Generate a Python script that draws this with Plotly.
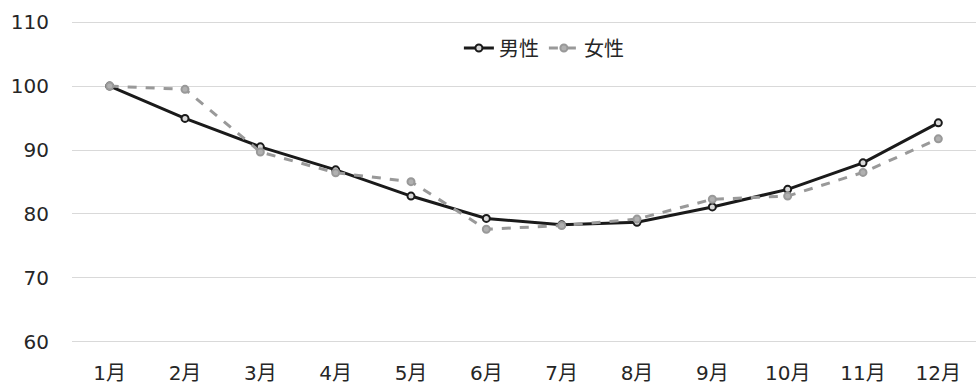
import plotly.graph_objects as go

months = ["1月", "2月", "3月", "4月", "5月", "6月", "7月", "8月", "9月", "10月", "11月", "12月"]
male = [100.0, 94.95, 90.5, 86.9, 82.8, 79.3, 78.3, 78.7, 81.1, 83.85, 88.0, 94.25]
female = [100.0, 99.5, 89.7, 86.45, 85.05, 77.6, 78.2, 79.2, 82.3, 82.8, 86.5, 91.75]
y_ticks = [60, 70, 80, 90, 100, 110]

FONT = "DejaVu Sans, Noto Sans CJK JP, sans-serif"
TXT = "#262626"

fig = go.Figure()
fig.add_trace(go.Scatter(
    x=months, y=male, name="男性", mode="lines+markers",
    line=dict(color="#1a1a1a", width=3),
    marker=dict(symbol="circle", size=7, color="#d9d9d9", line=dict(color="#1a1a1a", width=2)),
))
fig.add_trace(go.Scatter(
    x=months, y=female, name="女性", mode="lines+markers",
    line=dict(color="#999999", width=3, dash="dash"),
    marker=dict(symbol="circle", size=7, color="#b0b0b0", line=dict(color="#999999", width=2)),
))

fig.update_layout(
    width=976, height=389,
    margin=dict(l=72, r=0, t=19, b=44),
    paper_bgcolor="white", plot_bgcolor="white",
    font=dict(family=FONT, size=20, color=TXT),
    showlegend=True,
    legend=dict(orientation="h", x=0.522, xanchor="center", y=0.911, yanchor="middle",
                font=dict(family=FONT, size=20, color=TXT),
                bgcolor="rgba(0,0,0,0)", itemwidth=30, tracegroupgap=0),
    xaxis=dict(type="category", range=[-0.5, 11.5], showgrid=False, zeroline=False,
               showline=False, ticks="", ticklabelstandoff=14,
               tickfont=dict(family=FONT, size=20, color=TXT)),
    yaxis=dict(range=[59.5, 110.5], tickvals=y_ticks, showgrid=True, gridcolor="#d9d9d9",
               gridwidth=1, zeroline=False, showline=False, ticks="",
               ticklabelstandoff=22,
               tickfont=dict(family=FONT, size=20, color=TXT)),
)

fig.write_html("out.html")
